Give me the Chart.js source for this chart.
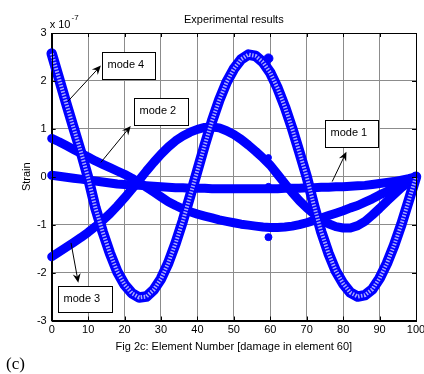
<!DOCTYPE html>
<html>
<head>
<meta charset="utf-8">
<script src="https://cdn.jsdelivr.net/npm/chart.js@4/dist/chart.umd.min.js"></script>
<style>
  html, body { margin: 0; padding: 0; background: #fff; }
  canvas { display: block; }
</style>
</head>
<body>
<canvas id="c" width="424" height="374"></canvas>
<script>
// ---- data ----
const elements = [0,2,4,6,8,10,12,14,16,18,20,22,24,26,28,30,32,34,36,38,40,42,44,46,48,50,52,54,56,58,60,62,64,66,68,70,72,74,76,78,80,82,84,86,88,90,92,94,96,98,100];
const mode1 = [0.03,0.01,-0.01,-0.03,-0.05,-0.07,-0.09,-0.11,-0.13,-0.15,-0.16,-0.17,-0.18,-0.19,-0.2,-0.21,-0.22,-0.23,-0.23,-0.24,-0.24,-0.24,-0.25,-0.25,-0.25,-0.25,-0.25,-0.25,-0.25,-0.25,-0.25,-0.25,-0.24,-0.24,-0.24,-0.23,-0.23,-0.22,-0.22,-0.21,-0.21,-0.2,-0.19,-0.18,-0.16,-0.14,-0.12,-0.1,-0.07,-0.04,0.0];
const mode2 = [0.8,0.73,0.65,0.57,0.49,0.41,0.33,0.26,0.19,0.12,0.05,-0.03,-0.12,-0.22,-0.32,-0.42,-0.52,-0.6,-0.67,-0.73,-0.78,-0.82,-0.86,-0.9,-0.93,-0.96,-0.99,-1.01,-1.03,-1.05,-1.06,-1.06,-1.05,-1.03,-1.0,-0.96,-0.91,-0.86,-0.81,-0.76,-0.71,-0.65,-0.6,-0.53,-0.46,-0.38,-0.31,-0.23,-0.15,-0.07,0.0];
const mode3 = [-1.67,-1.57,-1.47,-1.37,-1.27,-1.16,-1.04,-0.91,-0.77,-0.61,-0.44,-0.26,-0.07,0.12,0.3,0.47,0.62,0.75,0.85,0.93,0.99,1.03,1.04,1.02,0.96,0.88,0.78,0.66,0.53,0.39,0.24,0.05,-0.14,-0.33,-0.5,-0.65,-0.78,-0.9,-0.98,-1.04,-1.07,-1.07,-1.02,-0.93,-0.8,-0.66,-0.51,-0.37,-0.23,-0.11,0.0];
const mode4 = [2.57,2.05,1.53,1.02,0.52,-0.02,-0.65,-1.15,-1.6,-1.98,-2.25,-2.43,-2.52,-2.5,-2.36,-2.13,-1.8,-1.39,-0.92,-0.4,0.13,0.66,1.16,1.6,1.97,2.25,2.45,2.55,2.52,2.39,2.17,1.85,1.46,1.01,0.51,0.0,-0.6,-1.15,-1.6,-1.97,-2.23,-2.42,-2.5,-2.47,-2.35,-2.12,-1.81,-1.43,-0.99,-0.5,0.0];
// local disturbance at the damaged element
const damageX = [59.5, 59.5, 59.5, 59.5];
const damageY = [2.47, 0.4, -0.2, -1.26];
const modeLabels = ['mode 4', 'mode 2', 'mode 1', 'mode 3'];

// ---- annotation placement (data coordinates) ----
const notes = [
  { box: [13.7, 2.61, 28.3, 2.03], from: [4.4, 1.57], to: [13.5, 2.32] },
  { box: [22.6, 1.65, 37.4, 1.09], from: [13.5, 0.3], to: [21.7, 1.06] },
  { box: [75.0, 1.18, 89.5, 0.62], from: [77.0, -0.1], to: [80.9, 0.52] },
  { box: [1.8, -2.27, 16.6, -2.82], from: [5.3, -1.38], to: [7.3, -2.21] }
];

const FONT = '"Liberation Sans", Arial, Helvetica, sans-serif';
const BLUE = '#0000ff';
const pts = arr => elements.map((x, i) => ({ x: x, y: arr[i] }));

const matlabPlugin = {
  id: 'matlab',
  afterDraw(chart) {
    const ctx = chart.ctx;
    const a = chart.chartArea;
    const xs = chart.scales.x, ys = chart.scales.y;
    ctx.save();
    // axes box
    ctx.strokeStyle = '#000';
    ctx.lineWidth = 1;
    ctx.strokeRect(Math.round(a.left) + 0.5, Math.round(a.top) + 0.5,
                   Math.round(a.right - a.left), Math.round(a.bottom - a.top));
    // inward ticks on all four sides
    ctx.beginPath();
    xs.ticks.forEach(t => {
      const px = Math.round(xs.getPixelForValue(t.value)) + 0.5;
      ctx.moveTo(px, a.bottom); ctx.lineTo(px, a.bottom - 4);
      ctx.moveTo(px, a.top); ctx.lineTo(px, a.top + 4);
    });
    ys.ticks.forEach(t => {
      const py = Math.round(ys.getPixelForValue(t.value)) + 0.5;
      ctx.moveTo(a.left, py); ctx.lineTo(a.left + 4, py);
      ctx.moveTo(a.right, py); ctx.lineTo(a.right - 4, py);
    });
    ctx.stroke();

    // exponent label
    ctx.fillStyle = '#000';
    ctx.textBaseline = 'alphabetic';
    ctx.textAlign = 'left';
    ctx.font = '11px ' + FONT;
    const base = 'x 10';
    ctx.fillText(base, a.left - 2, a.top - 5);
    const w = ctx.measureText(base).width;
    ctx.font = '8px ' + FONT;
    ctx.fillText('-7', a.left - 2 + w + 1, a.top - 13.5);

    // annotations: arrows + text boxes
    notes.forEach((n, i) => {
      const x1 = xs.getPixelForValue(n.from[0]), y1 = ys.getPixelForValue(n.from[1]);
      const x2 = xs.getPixelForValue(n.to[0]), y2 = ys.getPixelForValue(n.to[1]);
      const dx = x2 - x1, dy = y2 - y1, L = Math.hypot(dx, dy);
      const ux = dx / L, uy = dy / L, px = -uy, py = ux;
      ctx.strokeStyle = '#000';
      ctx.lineWidth = 1;
      ctx.beginPath();
      ctx.moveTo(x1, y1);
      ctx.lineTo(x2 - ux * 5, y2 - uy * 5);
      ctx.stroke();
      ctx.fillStyle = '#000';
      ctx.beginPath();
      ctx.moveTo(x2, y2);
      ctx.lineTo(x2 - ux * 9 + px * 4, y2 - uy * 9 + py * 4);
      ctx.lineTo(x2 - ux * 6, y2 - uy * 6);
      ctx.lineTo(x2 - ux * 9 - px * 4, y2 - uy * 9 - py * 4);
      ctx.closePath();
      ctx.fill();

      const bl = Math.round(xs.getPixelForValue(n.box[0])) + 0.5;
      const bt = Math.round(ys.getPixelForValue(n.box[1])) + 0.5;
      const br = Math.round(xs.getPixelForValue(n.box[2])) + 0.5;
      const bb = Math.round(ys.getPixelForValue(n.box[3])) + 0.5;
      ctx.fillStyle = '#fff';
      ctx.fillRect(bl, bt, br - bl, bb - bt);
      ctx.strokeStyle = '#000';
      ctx.strokeRect(bl, bt, br - bl, bb - bt);
      ctx.fillStyle = '#000';
      ctx.font = '11px ' + FONT;
      ctx.textBaseline = 'middle';
      ctx.fillText(modeLabels[i], bl + 5, (bt + bb) / 2 - 1);
    });

    // panel label
    ctx.textBaseline = 'alphabetic';
    ctx.font = '17px "Liberation Serif", "Times New Roman", serif';
    ctx.fillText('(c)', 6, 369);
    ctx.restore();
  }
};

const band = (label, arr, order) => ({
  label: label, data: pts(arr), order: order,
  borderColor: BLUE, borderWidth: 9, pointRadius: 0,
  borderCapStyle: 'round', borderJoinStyle: 'round', tension: 0, clip: false
});

new Chart(document.getElementById('c'), {
  type: 'line',
  data: {
    datasets: [
      band('mode 1', mode1, 6),
      band('mode 2', mode2, 5),
      band('mode 3', mode3, 4),
      Object.assign(band('mode 4', mode4, 2), { borderWidth: 10.5 }),
      { label: 'mode 4 (inner)', data: pts(mode4), order: 1,
        borderColor: '#a8a8ff', borderWidth: 4, pointRadius: 0,
        borderDash: [1.5, 1.5], borderCapStyle: 'butt', tension: 0, clip: false },
      { label: 'damage', data: damageX.map((x, i) => ({ x: x, y: damageY[i] })), order: 0,
        showLine: false, pointRadius: [4.5, 3, 3, 3.5], pointBackgroundColor: BLUE,
        pointBorderColor: BLUE, borderColor: BLUE, clip: false }
    ]
  },
  options: {
    responsive: false,
    animation: false,
    events: [],
    layout: { padding: { left: 14, right: 8, top: 0, bottom: 20 } },
    plugins: {
      legend: { display: false },
      tooltip: { enabled: false },
      title: {
        display: true, text: 'Experimental results', fullSize: false,
        color: '#000', font: { family: FONT, size: 11, weight: 'normal', lineHeight: 1.2 },
        padding: { top: 13.4, bottom: 6.4 }
      }
    },
    scales: {
      x: {
        type: 'linear', min: 0, max: 100,
        ticks: { stepSize: 10, color: '#000', font: { family: FONT, size: 11 }, padding: 3, maxRotation: 0, autoSkip: false },
        grid: { color: '#8c8c8c', lineWidth: 1, drawTicks: false },
        border: { display: true, color: '#000' },
        title: { display: true, text: 'Fig 2c: Element Number [damage in element 60]', color: '#000',
                 font: { family: FONT, size: 11, lineHeight: 1.2 }, padding: { top: 0, bottom: 0 } },
        afterFit(s) { s.height = 33.5; s.paddingLeft = 0; s.paddingRight = 0; }
      },
      y: {
        type: 'linear', min: -3, max: 3,
        ticks: { stepSize: 1, color: '#000', font: { family: FONT, size: 11 }, padding: 5 },
        grid: { color: '#8c8c8c', lineWidth: 1, drawTicks: false },
        border: { display: true, color: '#000' },
        title: { display: true, text: 'Strain', color: '#000',
                 font: { family: FONT, size: 11, lineHeight: 1.2 }, padding: { top: 6, bottom: 0 } },
        afterFit(s) { s.width = 37.7; s.paddingTop = 0; s.paddingBottom = 0; }
      }
    }
  },
  plugins: [matlabPlugin]
});
</script>
</body>
</html>
